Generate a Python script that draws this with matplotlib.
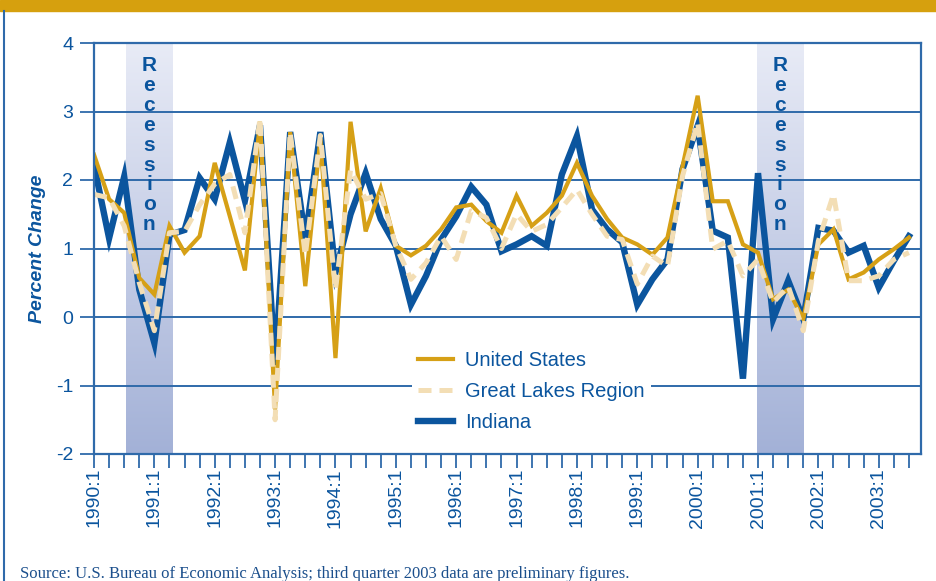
import numpy as np
import matplotlib
matplotlib.use("Agg")
import matplotlib.pyplot as plt
from matplotlib.colors import LinearSegmentedColormap

# quarterly percent change, 1990:1 - 2003:3
years = list(range(1990, 2004))
us = [2.37, 1.72, 1.52, 0.57, 0.33, 1.33, 0.94, 1.18, 2.25, 1.47,
      0.68, 2.85, -1.35, 2.7, 0.45, 2.6, -0.6, 2.85, 1.25, 1.88,
      1.04, 0.9, 1.04, 1.28, 1.6, 1.64, 1.4, 1.23, 1.77, 1.33,
      1.52, 1.77, 2.25, 1.77, 1.43, 1.16, 1.06, 0.91, 1.16, 2.2,
      3.23, 1.69, 1.69, 1.06, 0.94, 0.26, 0.4, -0.03, 1.06, 1.28,
      0.55, 0.65, 0.84, 0.99, 1.16]
great_lakes = [1.79, 1.74, 1.33, 0.5, -0.2, 1.23, 1.25, 1.64, 1.94, 2.08,
               1.23, 2.9, -1.5, 2.7, 0.9, 2.65, 0.4, 2.15, 1.72, 1.8,
               1.04, 0.55, 0.79, 1.18, 0.84, 1.55, 1.45, 1.0, 1.5, 1.25,
               1.35, 1.6, 1.86, 1.5, 1.18, 1.13, 0.48, 0.89, 0.74, 2.06,
               2.84, 0.99, 1.11, 0.6, 0.84, 0.21, 0.45, -0.2, 1.11, 1.79,
               0.53, 0.53, 0.6, 0.84, 0.94]
indiana = [2.22, 1.15, 2.05, 0.4, -0.38, 1.2, 1.27, 2.03, 1.72, 2.55,
           1.7, 2.8, -0.7, 2.7, 1.15, 2.7, 0.65, 1.5, 2.1, 1.43,
           1.04, 0.18, 0.6, 1.13, 1.47, 1.9, 1.64, 0.96, 1.06, 1.18,
           1.04, 2.08, 2.64, 1.57, 1.28, 1.09, 0.18, 0.55, 0.84, 2.16,
           2.79, 1.26, 1.16, -0.9, 2.1, -0.03, 0.53, -0.03, 1.3, 1.26,
           0.94, 1.04, 0.43, 0.82, 1.18]
recessions = [(2.1, 5.2), (43.9, 47.0)]

BLUE = "#0b559e"
LINE_BLUE = "#2f6aaa"
GOLD = "#d6a016"
CREAM = "#f3deb5"

plt.rcParams['font.family'] = ['Liberation Sans', 'DejaVu Sans']

fig = plt.figure(figsize=(9.37, 5.81), dpi=100)
ax = fig.add_axes([94/937, 1-454/581, (921-94)/937, (454-43)/581])

x = np.arange(len(us))

# recession shading with vertical gradient
cmap = LinearSegmentedColormap.from_list("rec", ["#e8ebf6", "#a3b1d7"])
grad = np.linspace(0, 1, 256).reshape(-1, 1)
for x0, x1 in recessions:
    ax.imshow(grad, extent=[x0, x1, -2, 4], aspect='auto', cmap=cmap,
              origin='upper', zorder=1)
    ax.text((x0 + x1) / 2, 3.81, "\n".join("Recession"), ha='center', va='top',
            fontsize=15, fontweight='bold', color=BLUE, linespacing=1.06, zorder=2)

for v in range(-2, 5):
    ax.axhline(v, color=LINE_BLUE, lw=1.4, zorder=1.5)

ax.plot(x, indiana, color=BLUE, lw=4.6, label="Indiana", zorder=3, solid_joinstyle='miter')
ax.plot(x, us, color=GOLD, lw=3.0, label="United States", zorder=4, solid_joinstyle='miter')
ax.plot(x, great_lakes, color=CREAM, lw=3.6, dashes=(2.6, 1.6), label="Great Lakes Region",
        zorder=5)

ax.set_xlim(0, 54.8)
ax.set_ylim(-2, 4)
ax.set_yticks(range(-2, 5))
ax.set_yticklabels([str(v) for v in range(-2, 5)])
ax.set_xticks([(y - 1990) * 4 for y in years])
ax.set_xticklabels([f"{y}:1" for y in years], rotation=90)
ax.set_xticks(x, minor=True)
ax.tick_params(axis='x', which='both', direction='out', length=10, width=1.3,
               color=LINE_BLUE, labelcolor=BLUE, labelsize=14, pad=0)
ax.tick_params(axis='y', direction='out', length=10, width=1.3, color=LINE_BLUE,
               labelcolor=BLUE, labelsize=14, pad=5)
for s in ax.spines.values():
    s.set_color(LINE_BLUE)
    s.set_linewidth(1.6)
    s.set_zorder(6)

ax.set_ylabel("Percent Change", fontsize=14, fontweight='bold', style='italic',
              color=BLUE, labelpad=7)

handles, labels = ax.get_legend_handles_labels()
order = [1, 2, 0]
leg = fig.legend([handles[i] for i in order], [labels[i] for i in order],
                 loc='upper left', bbox_to_anchor=(412/937, 1-345/581),
                 fontsize=14.5, frameon=True, facecolor='white', edgecolor='none',
                 framealpha=1, handlelength=1.75, handletextpad=0.6, labelspacing=0.6,
                 borderpad=0.3, borderaxespad=0)
for t in leg.get_texts():
    t.set_color(BLUE)
leg.set_zorder(7)

# header band and border
fig.patches.append(plt.Rectangle((0, 1-11/581), 1, 11/581, transform=fig.transFigure,
                                 color="#d6a00e", zorder=0))
fig.add_artist(plt.Line2D([4/937, 4/937], [0, 1-11/581], transform=fig.transFigure,
                          color=LINE_BLUE, lw=1.5))

fig.text(20/937, 1-578/581, "Source: U.S. Bureau of Economic Analysis; third quarter 2003 data are preliminary figures.",
         fontsize=12, family='Liberation Serif', color="#1b4f8c", va='baseline')

fig.savefig("out.png", dpi=100)
